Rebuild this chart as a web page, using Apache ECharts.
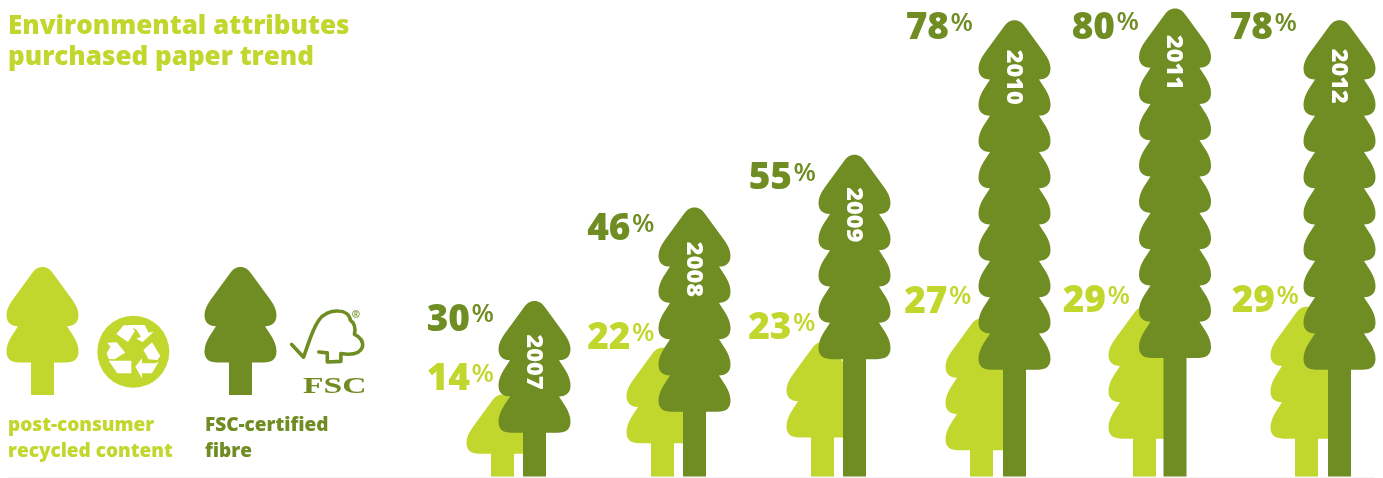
<!DOCTYPE html>
<html>
<head>
<meta charset="utf-8">
<title>Environmental attributes purchased paper trend</title>
<style>html,body{margin:0;padding:0;background:#fff}#chart{width:1383px;height:478px}</style>
<script src="https://cdn.jsdelivr.net/npm/echarts@6/dist/echarts.min.js"></script>
</head>
<body>
<div id="chart"></div>
<script>
// Chart data: share of purchased paper per year, in percent
const years = ['2007', '2008', '2009', '2010', '2011', '2012'];
const recycledValues = [14, 22, 23, 27, 29, 29];
const fscValues = [30, 46, 55, 78, 80, 78];

// Number of crown tiers on each tree
const recycledTiers = [1, 2, 2, 3, 3, 3];
const fscTiers = [3, 5, 5, 9, 9, 9];

// Fine placement of trees and labels, in pixels
const yearNudge = [0, 0, 0, 0, 0.5, 5];
const recycledOffset = [-32, -32, -32, -33, -30.5, -33];
const fscLabelX = [-64.5, -64, -62.5, -65.5, -60, -66.5];
const fscLabelY = [17, 20, 22, 6, 17.5, 6];
const recycledLabelX = [-64.5, -64, -63, -67, -69, -64.5];
const recycledLabelY = [-17, -11, -15, -18.5, -7, -7];
const yearTextY = [61, 62, 60, 57, 54, 56];

const LIGHT = '#c2d72e';
const DARK = '#6f8d22';
const FONT = '"Open Sans", sans-serif';

// Outline of a tree of height h: a pointed top tier, lower tiers, then the trunk.
function treePath(h, tiers) {
  const cx = 36, topH = 59.2, stepH = 36.3, trunk = 11.5;
  const R = (x, y) => (cx + x) + ' ' + y;
  const L = (x, y) => (cx - x) + ' ' + y;
  // Collect the right side as segments, then mirror it for the left side.
  const pts = [];
  const add = (type, arr) => pts.push({ type, arr });
  add('C', [4.5, 0, 8, 2.5, 11, 7]);
  add('L', [30, 33]);
  add('C', [33.5, 38, 36, 43, 36, 48]);
  let y = topH;
  for (let i = 0; i < tiers; i++) {
    const last = i === tiers - 1;
    if (i > 0) {
      add('L', [31, y + 10]);
      add('C', [34, y + 15, 36, y + 20, 36, y + 25]);
      y += stepH;
    }
    const ex = i > 0 ? y - stepH + 25 : 48;
    if (last) {
      add('C', [36, ex + 7.5, 32, y, 23, y]);
      add('L', [trunk, y]);
    } else {
      add('C', [36, ex + 7.5, 32, y - 0.3, 24.5, y]);
    }
  }
  add('L', [trunk, h]);
  let d = 'M' + R(0, 0);
  pts.forEach(p => {
    const a = p.arr;
    d += p.type === 'L' ? 'L' + R(a[0], a[1])
      : 'C' + R(a[0], a[1]) + ' ' + R(a[2], a[3]) + ' ' + R(a[4], a[5]);
  });
  // Walk back up the mirrored left side.
  d += 'L' + L(trunk, h);
  for (let i = pts.length - 1; i >= 0; i--) {
    const p = pts[i];
    const a = p.arr;
    const start = i > 0 ? pts[i - 1].arr.slice(-2) : [0, 0];
    if (p.type === 'L') {
      d += 'L' + L(start[0], start[1]);
    } else {
      d += 'C' + L(a[2], a[3]) + ' ' + L(a[0], a[1]) + ' ' + L(start[0], start[1]);
    }
  }
  return d + 'Z';
}

function treeShape(cx, top, base, tiers, color) {
  const h = base - top;
  return {
    type: 'path',
    shape: { pathData: treePath(h, tiers), x: cx - 36, y: top, width: 72, height: h, layout: 'cover' },
    style: { fill: color }
  };
}

function percentLabel(value, x, y, color) {
  return [
    { type: 'text', style: { text: String(value), x: x, y: y + 2, align: 'right', verticalAlign: 'middle', fill: color, font: '800 37px ' + FONT } },
    { type: 'text', style: { text: '%', x: x + 1.5, y: y - 3, align: 'left', verticalAlign: 'middle', fill: color, font: '600 26px ' + FONT } }
  ];
}

function renderYear(params, api, tiersList, color, offsets, labelX, labelY, isFsc) {
  const i = api.value(0);
  const value = api.value(1);
  const top = api.coord([i, value]);
  const base = api.coord([i, 0]);
  const treeX = top[0] + yearNudge[i];
  const cx = treeX + offsets[i];
  const children = [treeShape(cx, top[1], base[1], tiersList[i], color)];
  percentLabel(value, treeX + labelX[i], top[1] + labelY[i], color).forEach(t => children.push(t));
  if (isFsc) {
    children.push({
      type: 'text', x: treeX - 1, y: top[1] + yearTextY[i], rotation: -Math.PI / 2,
      style: { text: years[i], x: 0, y: 0, align: 'center', verticalAlign: 'middle', fill: '#ffffff', font: '800 23.5px ' + FONT }
    });
  }
  return { type: 'group', children: children };
}

// Legend keys: two sample trees, the recycling badge and the FSC mark.
function renderKey() {
  const poly = pts => ({
    type: 'polygon',
    shape: { points: pts.map(p => [92 + p[0] / 3, 310 + p[1] / 3]) },
    style: { fill: '#ffffff' }
  });
  const legendText = (text, x, y, color) => ({
    type: 'text',
    style: { text: text, x: x, y: y, align: 'left', verticalAlign: 'middle', fill: color, font: '800 19px ' + FONT }
  });
  return {
    type: 'group',
    children: [
      treeShape(42.5, 267, 395, 2, LIGHT),
      treeShape(240.5, 267, 395, 2, DARK),
      { type: 'circle', shape: { cx: 133.3, cy: 351.7, r: 36 }, style: { fill: LIGHT } },
      poly([[73, 72], [95, 46], [119, 46], [128, 64], [108, 96]]),
      poly([[112, 45], [158, 45], [170, 68], [185, 65], [152, 96], [133, 86], [147, 80], [134, 60]]),
      poly([[46, 98], [74, 97], [100, 128], [88, 135], [68, 148], [50, 147], [44, 130], [55, 110]]),
      poly([[50, 152], [118, 152], [118, 190], [76, 190]]),
      poly([[154, 120], [180, 97], [205, 138], [196, 150], [170, 148]]),
      poly([[130, 170], [150, 145], [150, 160], [190, 160], [200, 155], [180, 190], [150, 190], [150, 205]]),
      {
        type: 'path',
        shape: {
          pathData: 'M20 130L55 172C68 135 78 85 100 50C112 30 135 18 158 20C175 20 190 30 193 50C207 62 208 82 205 97C222 105 233 122 228 140C222 158 200 166 165 160L165 186L125 188L125 158L100 155',
          x: 291.67, y: 311, width: 71, height: 51, layout: 'cover'
        },
        style: { fill: 'none', stroke: DARK, lineWidth: 3.6, lineJoin: 'round', lineCap: 'round' }
      },
      { type: 'text', style: { text: '®', x: 356, y: 315, align: 'center', verticalAlign: 'middle', fill: DARK, font: '700 10px ' + FONT } },
      { type: 'text', x: 303, y: 387, scaleX: 1.4, style: { text: 'FSC', x: 0, y: 0, align: 'left', verticalAlign: 'middle', fill: DARK, font: '700 24px "Liberation Serif", serif' } },
      legendText('post-consumer', 8, 425.5, LIGHT),
      legendText('recycled content', 8, 452, LIGHT),
      legendText('FSC-certified', 205, 425.5, DARK),
      legendText('fibre', 205, 452, DARK),
      { type: 'line', shape: { x1: 8, y1: 477.5, x2: 1374, y2: 477.5 }, style: { stroke: '#f3f3f3', lineWidth: 1 } }
    ]
  };
}

const chart = echarts.init(document.getElementById('chart'), null, { renderer: 'canvas' });
chart.setOption({
  animation: false,
  backgroundColor: '#ffffff',
  title: {
    text: 'Environmental attributes\npurchased paper trend',
    left: 3, top: 6,
    textStyle: { color: LIGHT, fontFamily: FONT, fontWeight: 800, fontSize: 26, lineHeight: 31 }
  },
  grid: { left: 534.5, right: 48.5, top: 8.5, bottom: 1.5 },
  xAxis: { type: 'category', data: years, show: false, boundaryGap: false },
  yAxis: { type: 'value', min: 0, max: 80, show: false },
  series: [
    {
      name: 'post-consumer recycled content', type: 'custom', clip: false, silent: true, z: 2,
      encode: { x: 0, y: 1 },
      data: recycledValues.map((v, i) => [i, v]),
      renderItem: (p, api) => renderYear(p, api, recycledTiers, LIGHT, recycledOffset, recycledLabelX, recycledLabelY, false)
    },
    {
      name: 'FSC-certified fibre', type: 'custom', clip: false, silent: true, z: 3,
      encode: { x: 0, y: 1 },
      data: fscValues.map((v, i) => [i, v]),
      renderItem: (p, api) => renderYear(p, api, fscTiers, DARK, years.map(() => 0), fscLabelX, fscLabelY, true)
    },
    {
      name: 'key', type: 'custom', coordinateSystem: 'none', silent: true, z: 1,
      data: [[0]],
      renderItem: renderKey
    }
  ]
});
</script>
</body>
</html>
